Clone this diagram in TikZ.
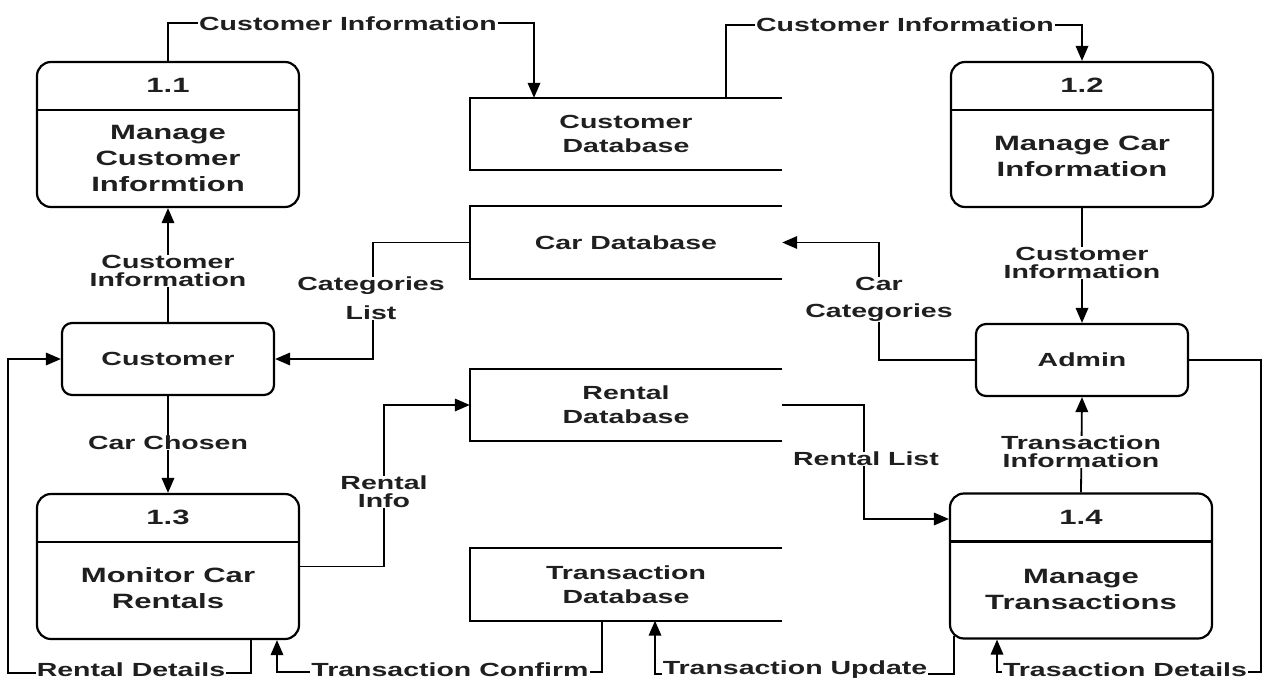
\documentclass[tikz,border=0pt]{standalone}
\usepackage{fontspec}
\newfontfamily\dfd{Liberation Sans}[FakeStretch=1.5]
\usetikzlibrary{arrows.meta}
\begin{document}
\begin{tikzpicture}[x=1pt,y=-1pt,
  every node/.style={text=black!88},
  proc/.style={draw, line width=2.2pt, rounded corners=14pt, minimum width=262pt, minimum height=145pt, inner sep=0pt},
  ent/.style={draw, line width=2.2pt, rounded corners=10pt, minimum width=212pt, minimum height=72pt, inner sep=0pt},
  store/.style={minimum width=312pt, minimum height=72pt, inner sep=0pt},
  ptext/.style={align=center, inner sep=0pt, font=\dfd\bfseries\fontsize{20.7}{26}\selectfont},
  etext/.style={align=center, inner sep=0pt, font=\dfd\bfseries\fontsize{19}{24}\selectfont},
  lab/.style={align=center, fill=white, inner xsep=1pt, inner ysep=0pt, font=\dfd\bfseries\fontsize{19}{18}\selectfont},
  flow/.style={line width=1.8pt, -{Triangle[length=15pt,width=12.5pt]}},
  edge/.style={line width=2pt},
]
\useasboundingbox (0,0) rectangle (1264,680);

% processes
\node[proc] (p11) at (168,134.5) {};
\node[proc] (p12) at (1082,134.5) {};
\node[proc] (p13) at (168,566.5) {};
\node[proc] (p14) at (1081,566) {};
\foreach \p in {p11,p12,p13,p14}
  \draw[line width=2.2pt] ([yshift=-49pt]\p.north west) -- ([yshift=-49pt]\p.north east);
\node[ptext] (n11) at (168,85) {1.1};
\node[ptext] (t11) at (168,158) {Manage\\Customer\\Informtion};
\node[ptext] (n12) at (1082,85) {1.2};
\node[ptext] (t12) at (1082,156) {Manage Car\\Information};
\node[ptext] (n13) at (168,517) {1.3};
\node[ptext] (t13) at (168,588.5) {Monitor Car\\Rentals};
\node[ptext] (n14) at (1081,517) {1.4};
\node[ptext] (t14) at (1081,589) {Manage\\Transactions};

% entities
\node[ent, etext] (cust) at (168,359) {Customer};
\node[ent, etext] (admin) at (1082,360) {Admin};

% data stores
\node[store, etext] (cdb) at (626,134) {Customer\\Database};
\node[store, etext] (cardb) at (626,242.5) {Car Database};
\node[store, etext] (rdb) at (626,405) {Rental\\Database};
\node[store, etext] (tdb) at (626,584.5) {Transaction\\Database};
\foreach \s in {cdb,cardb,rdb,tdb}
  \draw[edge] (\s.north east) -- (\s.north west) -- (\s.south west) -- (\s.south east);

% flows
\draw[flow] (p11.north) -- ++(0,-38) -| ([xshift=-92pt]cdb.north);
\draw[flow] ([xshift=100pt]cdb.north) -- ++(0,-73) -| (p12.north);
\draw[flow] (cardb.west) -| ([xshift=98pt]cust.east) -- (cust.east);
\draw[flow] (cust.north) -- (p11.south);
\draw[flow] (cust.south) -- (p13.north);
\draw[flow] (p13.east) -| ([xshift=-86pt]rdb.west) -- (rdb.west);
\draw[flow] (rdb.east) -| ([xshift=-85pt,yshift=47pt]p14.west) -- ([yshift=47pt]p14.west);
\draw[flow] (p12.south) -- (admin.north);
\draw[flow] (admin.west) -| ([xshift=97pt]cardb.east) -- (cardb.east);
\draw[flow] (p14.north) -- (admin.south);
\draw[flow] (admin.east) -- ++(72,0) -- ++(0,312) -| ([xshift=-84pt]p14.south);
\draw[flow] ([xshift=5pt,yshift=4pt]p14.south west) -- ++(0,38) -| ([xshift=29pt]tdb.south);
\draw[flow] ([xshift=-24pt]tdb.south) -- ++(0,51) -| ([xshift=109pt]p13.south);
\draw[flow] ([xshift=83pt]p13.south) -- ++(0,33) -| ([xshift=-53pt]cust.west) -- (cust.west);

% labels
\node[lab] (l1) at (348,24) {Customer Information};
\node[lab] (l2) at (905,25) {Customer Information};
\node[lab, font=\dfd\bfseries\fontsize{19}{29}\selectfont] (l3) at (371,298.5) {Categories\\List};
\node[lab] (l4) at (168,271) {Customer\\Information};
\node[lab] (l5) at (168,443) {Car Chosen};
\node[lab] (l6) at (384,492) {Rental\\Info};
\node[lab] (l7) at (866,459) {Rental List};
\node[lab] (l8) at (1082,263) {Customer\\Information};
\node[lab, font=\dfd\bfseries\fontsize{19}{27}\selectfont] (l9) at (879,299.5) {Car\\Categories};
\node[lab] (l10) at (1081,452) {Transaction\\Information};
\node[lab] (l11) at (1125,670) {Trasaction Details};
\node[lab] (l12) at (795,670) {Transaction Update};
\node[lab] (l13) at (450,670) {Transaction Confirm};
\node[lab] (l14) at (131,670) {Rental Details};
\end{tikzpicture}
\end{document}
